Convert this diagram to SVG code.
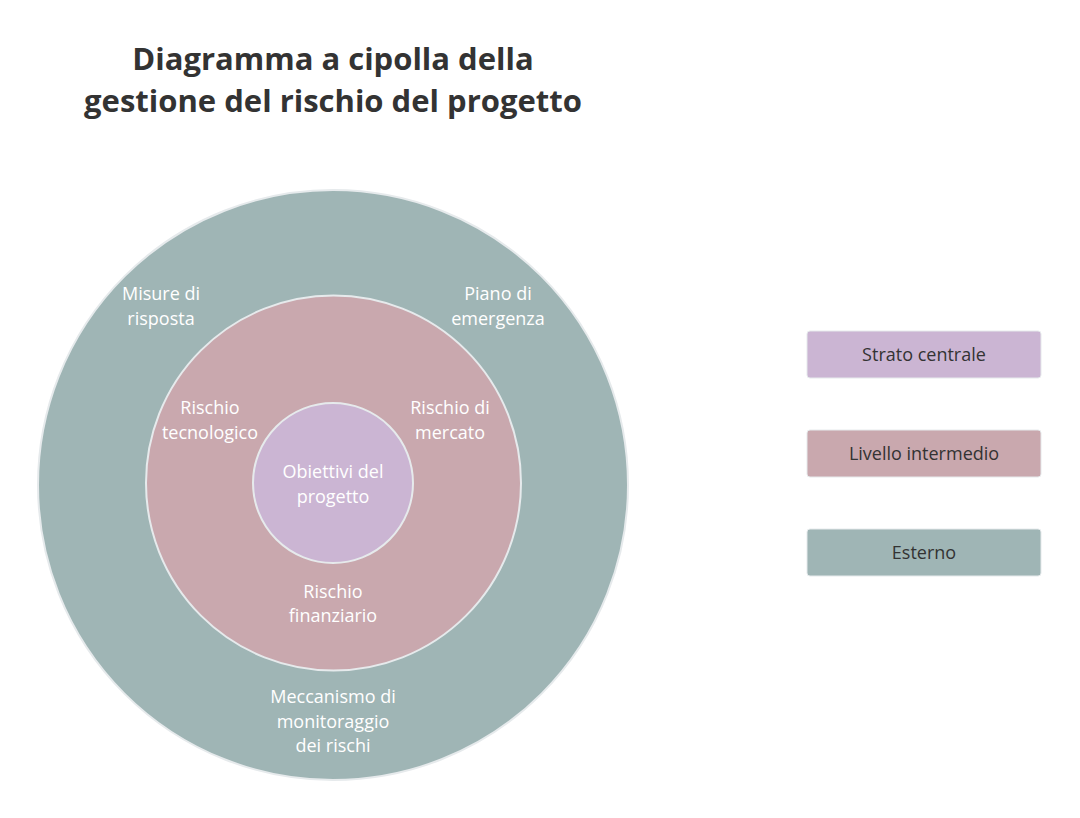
<svg xmlns="http://www.w3.org/2000/svg" width="1080" height="818" viewBox="0 0 1080 818">
<style>
.t{font-family:"Segoe UI","Open Sans","Noto Sans",sans-serif;font-size:18px;fill:#ffffff;text-anchor:middle}
.l{font-family:"Segoe UI","Open Sans","Noto Sans",sans-serif;font-size:18px;fill:#333333;text-anchor:middle}
.h{font-family:"Segoe UI","Open Sans","Noto Sans",sans-serif;font-size:31px;font-weight:bold;fill:#333333;text-anchor:middle}
.c{stroke:#e6eaec;stroke-width:2}
</style>
<rect width="1080" height="818" fill="#ffffff"/>
<text class="h" x="333" y="70">Diagramma a cipolla della</text>
<text class="h" x="333" y="112">gestione del rischio del progetto</text>
<g id="outer"><circle class="c" cx="333" cy="485" r="295" fill="#9fb5b5"/>
<text class="t" x="161" y="300">Misure di</text><text class="t" x="161" y="325">risposta</text>
<text class="t" x="498" y="300">Piano di</text><text class="t" x="498" y="325">emergenza</text>
<text class="t" x="333" y="703">Meccanismo di</text><text class="t" x="333" y="728">monitoraggio</text><text class="t" x="333" y="752">dei rischi</text></g>
<g id="middle"><circle class="c" cx="333.5" cy="483" r="187.5" fill="#c9a8ae"/>
<text class="t" x="210" y="414">Rischio</text><text class="t" x="210" y="439">tecnologico</text>
<text class="t" x="450" y="414">Rischio di</text><text class="t" x="450" y="439">mercato</text>
<text class="t" x="333" y="598">Rischio</text><text class="t" x="333" y="622">finanziario</text></g>
<g id="inner"><circle class="c" cx="333" cy="483" r="80" fill="#cbb5d3"/>
<text class="t" x="333" y="478">Obiettivi del</text><text class="t" x="333" y="503">progetto</text></g>
<g id="legend">
<g id="leg1"><rect x="807" y="331" width="234" height="47" rx="3" fill="#cbb5d3" stroke="#e6eaec"/><text class="l" x="924" y="361">Strato centrale</text></g>
<g id="leg2"><rect x="807" y="430" width="234" height="47" rx="3" fill="#c9a8ae" stroke="#e6eaec"/><text class="l" x="924" y="460">Livello intermedio</text></g>
<g id="leg3"><rect x="807" y="529" width="234" height="47" rx="3" fill="#9fb5b5" stroke="#e6eaec"/><text class="l" x="924" y="559">Esterno</text></g>
</g>
<g id="connectors"/>
</svg>
